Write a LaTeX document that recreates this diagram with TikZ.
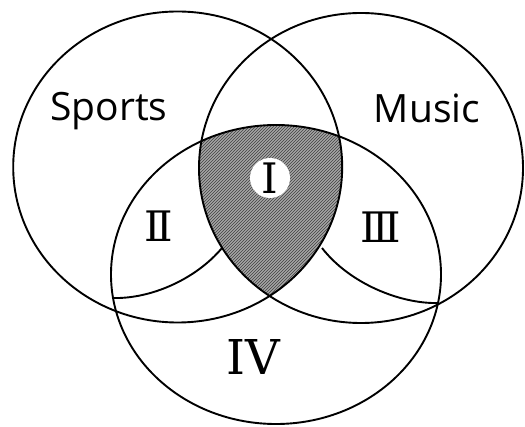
\documentclass[tikz,border=0pt]{standalone}
\usepackage{fontspec}
\usetikzlibrary{patterns}
\newfontfamily\handfont{Open Sans}
\newfontfamily\numfont{DejaVu Serif}

\begin{document}
\begin{tikzpicture}[x=1pt, y=-1pt,
  ring/.style={draw, line width=1.9pt},
  setname/.style={font=\handfont\fontsize{39}{40}\selectfont, inner sep=0pt},
  region/.style={font=\numfont\fontsize{42}{44}\selectfont, inner sep=0pt}
]
  \useasboundingbox (0,0) rectangle (525,427);
  \coordinate (S) at (177.7,167);
  \coordinate (M) at (361,168);
  \coordinate (B) at (276,274.5);

  \begin{scope}
    \clip (S) ellipse [x radius=164.5, y radius=155.5];
    \clip (M) ellipse [x radius=162, y radius=155];
    \fill[gray!70] (B) ellipse [x radius=165, y radius=149.5];
    \fill[pattern=north east lines, pattern color=black!75] (B) ellipse [x radius=165, y radius=149.5];
  \end{scope}

  \draw[ring] (S) ellipse [x radius=164.5, y radius=155.5];
  \draw[ring] (M) ellipse [x radius=162, y radius=155];
  \draw[ring] (B) ellipse [x radius=165, y radius=149.5];

  \coordinate (lowA) at (113,298);
  \coordinate (lowB) at (222,248);
  \coordinate (lowC) at (322,248);
  \coordinate (lowD) at (438,303);
  \draw[ring] (lowA) .. controls (150,299) and (195,280) .. (lowB);
  \draw[ring] (lowD) .. controls (401,304) and (350,284) .. (lowC);

  \node[setname] (sports) at (109,111) {Sports};
  \node[setname] (music) at (427,108) {Music};
  \node[region, circle, fill=white, minimum size=40pt] (one) at (270,178) {I};
  \node[region] (two) at (159,226) {Ⅱ};
  \node[region] (three) at (381,227) {Ⅲ};
  \node[region, font=\numfont\fontsize{48}{50}\selectfont] (four) at (253,357) {IV};
\end{tikzpicture}
\end{document}
